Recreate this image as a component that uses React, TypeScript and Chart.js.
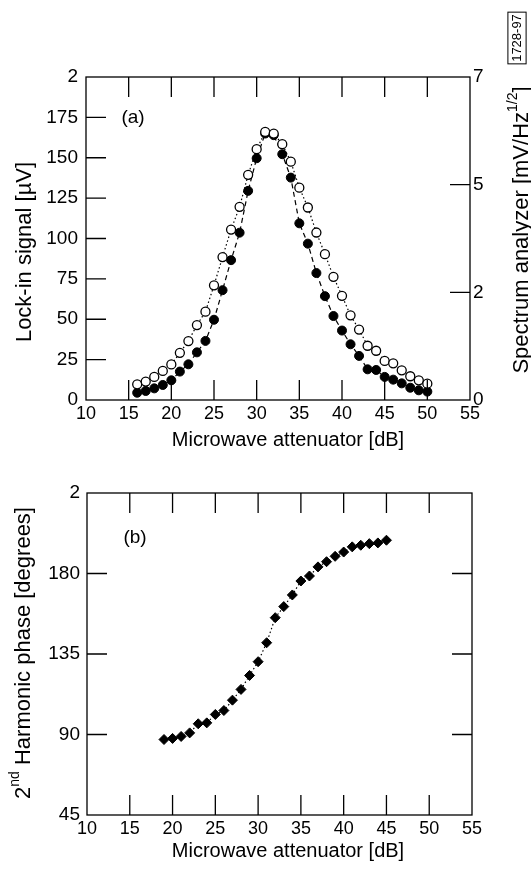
import React, { useEffect, useRef } from "react";
import { Chart, registerables } from "chart.js";

Chart.register(...registerables);

const FONT = '"Liberation Sans", Arial, Helvetica, sans-serif';

// ---- panel (a): signal vs attenuation
const ATTEN_A = [16, 17, 18, 19, 20, 21, 22, 23, 24, 25, 26, 27, 28, 29, 30, 31, 32, 33,
  34, 35, 36, 37, 38, 39, 40, 41, 42, 43, 44, 45, 46, 47, 48, 49, 50];
// open circles, dotted line
const SPECTRUM = [9.7, 11.4, 14.3, 18, 22, 29.2, 36.5, 46.4, 54.7, 71, 88.5, 105.5, 119.6,
  139.4, 155.3, 166, 165, 158.4, 147.6, 131.5, 119.2, 103.7, 90.3, 76.3, 64.5, 52.4, 43.6,
  33.6, 30.5, 24.2, 22.7, 18.4, 14.7, 12.2, 10.1];
// filled circles, dashed line
const LOCKIN = [4.5, 5.6, 7.2, 9.3, 12.2, 17.6, 22.1, 29.5, 36.6, 49.7, 68, 86.6, 103.6,
  129.5, 149.7, 165, 164, 152.2, 137.7, 109.4, 96.8, 78.6, 64.3, 52, 43, 34.5, 27.3, 19,
  18.6, 14.3, 12.6, 10.3, 7.6, 6, 5.2];

// ---- panel (b): phase vs attenuation
const ATTEN_B = [19, 20, 21, 22, 23, 24, 25, 26, 27, 28, 29, 30, 31, 32, 33, 34, 35, 36, 37,
  38, 39, 40, 41, 42, 43, 44, 45];
const PHASE = [87.2, 87.8, 88.9, 90.9, 96, 96.5, 101.2, 103.4, 109.2, 115.2, 123, 130.7,
  141.3, 155.3, 161.5, 168, 175.8, 178.6, 183.7, 186.6, 189.6, 192, 194.9, 195.8, 196.7,
  197.1, 198.6];

// ---- ticks
const X_TICKS = [10, 15, 20, 25, 30, 35, 40, 45, 50, 55];
const X_MARKS = [15, 20, 25, 30, 35, 40, 45, 50];
const YA_TICKS = [0, 25, 50, 75, 100, 125, 150, 175, 200];
const YA_LABELS = ["0", "25", "50", "75", "100", "125", "150", "175", "2"];
const YA_MARKS = [25, 50, 75, 100, 125, 150, 175];
const YA_RIGHT_TICKS = [0, 2.5, 5, 7.5];
const YA_RIGHT_LABELS = ["0", "2", "5", "7"];
const YA_RIGHT_MARKS = [2.5, 5];
const YB_TICKS = [45, 90, 135, 180, 225];
const YB_LABELS = ["45", "90", "135", "180", "2"];
const YB_MARKS = [90, 135, 180];

type Part = { t: string; sup?: boolean };
type Label = { x: number; y: number; rot?: boolean; size: number; parts: Part[]; boxed?: boolean };

function drawLabel(ctx: CanvasRenderingContext2D, l: Label) {
  const supSize = Math.round(l.size * 0.65);
  const fontFor = (p: Part) => `${p.sup ? supSize : l.size}px ${FONT}`;
  let total = 0;
  const widths = l.parts.map((p) => {
    ctx.font = fontFor(p);
    const w = ctx.measureText(p.t).width;
    total += w;
    return w;
  });
  ctx.save();
  ctx.translate(l.x, l.y);
  if (l.rot) ctx.rotate(-Math.PI / 2);
  ctx.fillStyle = "#000";
  ctx.textBaseline = "middle";
  ctx.textAlign = "left";
  let cx = -total / 2;
  l.parts.forEach((p, i) => {
    ctx.font = fontFor(p);
    ctx.fillText(p.t, cx, p.sup ? -l.size * 0.38 : 0);
    cx += widths[i];
  });
  if (l.boxed) {
    ctx.strokeStyle = "#000";
    ctx.lineWidth = 1;
    ctx.strokeRect(-total / 2 - 2, -l.size * 0.7, total + 4, l.size * 1.4);
  }
  ctx.restore();
}

const framePlugin = {
  id: "frame",
  afterDatasetsDraw(chart: any, _args: any, opts: any) {
    const { ctx, chartArea: a, scales } = chart;
    const len = 20;
    ctx.save();
    ctx.strokeStyle = "#000";
    ctx.lineWidth = 1.3;
    ctx.strokeRect(a.left, a.top, a.right - a.left, a.bottom - a.top);
    ctx.beginPath();
    (opts.xMarks || []).forEach((v: number) => {
      const px = scales.x.getPixelForValue(v);
      ctx.moveTo(px, a.bottom);
      ctx.lineTo(px, a.bottom - len);
      ctx.moveTo(px, a.top);
      ctx.lineTo(px, a.top + len);
    });
    (opts.yMarks || []).forEach((v: number) => {
      const py = scales.y.getPixelForValue(v);
      ctx.moveTo(a.left, py);
      ctx.lineTo(a.left + len, py);
      if (opts.mirrorY) {
        ctx.moveTo(a.right, py);
        ctx.lineTo(a.right - len, py);
      }
    });
    (opts.y1Marks || []).forEach((v: number) => {
      const py = scales.y1.getPixelForValue(v);
      ctx.moveTo(a.right, py);
      ctx.lineTo(a.right - len, py);
    });
    ctx.stroke();
    ctx.restore();
    (opts.labels || []).forEach((l: Label) => drawLabel(ctx, l));
  },
};

function xAxis(height: number) {
  return {
    type: "linear" as const,
    min: 10,
    max: 55,
    grid: { display: false, drawTicks: false },
    border: { display: false },
    afterBuildTicks: (s: any) => { s.ticks = X_TICKS.map((v) => ({ value: v })); },
    afterFit: (s: any) => { s.height = height; },
    ticks: { color: "#000", font: { family: FONT, size: 18 }, padding: 3, maxRotation: 0 },
  };
}

function yAxis(min: number, max: number, ticks: number[], labels: string[], width: number, position: "left" | "right", pad: number) {
  return {
    type: "linear" as const,
    position,
    min,
    max,
    grid: { display: false, drawTicks: false },
    border: { display: false },
    afterBuildTicks: (s: any) => { s.ticks = ticks.map((v) => ({ value: v })); },
    afterFit: (s: any) => { s.width = width; },
    ticks: {
      color: "#000",
      font: { family: FONT, size: 19 },
      padding: pad,
      callback: (v: any) => labels[ticks.indexOf(Number(v))] ?? "",
    },
  };
}

function TopPanel() {
  const ref = useRef<HTMLCanvasElement | null>(null);
  useEffect(() => {
    if (!ref.current) return;
    const chart = new Chart(ref.current, {
      type: "line",
      data: {
        datasets: [
          {
            label: "spectrum",
            data: ATTEN_A.map((x, i) => ({ x, y: SPECTRUM[i] })),
            yAxisID: "y",
            borderColor: "#000",
            borderWidth: 1.2,
            borderDash: [1.5, 2.5],
            pointStyle: "circle",
            pointRadius: 4.5,
            pointBackgroundColor: "#fff",
            pointBorderColor: "#000",
            pointBorderWidth: 1.3,
            tension: 0,
          },
          {
            label: "lockin",
            data: ATTEN_A.map((x, i) => ({ x, y: LOCKIN[i] })),
            yAxisID: "y",
            borderColor: "#000",
            borderWidth: 1.2,
            borderDash: [5, 3.5],
            pointStyle: "circle",
            pointRadius: 4.5,
            pointBackgroundColor: "#000",
            pointBorderColor: "#000",
            pointBorderWidth: 1,
            tension: 0,
          },
        ],
      },
      options: {
        animation: false,
        responsive: true,
        maintainAspectRatio: false,
        layout: { padding: { top: 77, left: 0, right: 0, bottom: 0 } },
        plugins: {
          legend: { display: false },
          tooltip: { enabled: false },
          frame: {
            xMarks: X_MARKS,
            yMarks: YA_MARKS,
            y1Marks: YA_RIGHT_MARKS,
            labels: [
              { x: 133, y: 118, size: 19, parts: [{ t: "(a)" }] },
              { x: 25, y: 252, rot: true, size: 22, parts: [{ t: "Lock-in signal [µV]" }] },
              { x: 288, y: 440, size: 20, parts: [{ t: "Microwave attenuator [dB]" }] },
              {
                x: 522, y: 230, rot: true, size: 22,
                parts: [{ t: "Spectrum analyzer [mV/Hz" }, { t: "1/2", sup: true }, { t: "]" }],
              },
              { x: 517, y: 38, rot: true, size: 13, boxed: true, parts: [{ t: "1728-97" }] },
            ],
          },
        } as any,
        scales: {
          x: xAxis(70),
          y: yAxis(0, 200, YA_TICKS, YA_LABELS, 86, "left", 8),
          y1: yAxis(0, 7.5, YA_RIGHT_TICKS, YA_RIGHT_LABELS, 61, "right", 3),
        },
      },
      plugins: [framePlugin],
    });
    return () => chart.destroy();
  }, []);
  return <canvas ref={ref} />;
}

function BottomPanel() {
  const ref = useRef<HTMLCanvasElement | null>(null);
  useEffect(() => {
    if (!ref.current) return;
    const chart = new Chart(ref.current, {
      type: "line",
      data: {
        datasets: [
          {
            label: "phase",
            data: ATTEN_B.map((x, i) => ({ x, y: PHASE[i] })),
            borderColor: "#000",
            borderWidth: 1.2,
            borderDash: [1.5, 2.5],
            pointStyle: "rectRot",
            pointRadius: 5,
            pointBackgroundColor: "#000",
            pointBorderColor: "#000",
            pointBorderWidth: 1,
            tension: 0,
          },
        ],
      },
      options: {
        animation: false,
        responsive: true,
        maintainAspectRatio: false,
        layout: { padding: { top: 23, left: 0, right: 59, bottom: 0 } },
        plugins: {
          legend: { display: false },
          tooltip: { enabled: false },
          frame: {
            xMarks: X_MARKS,
            yMarks: YB_MARKS,
            mirrorY: true,
            labels: [
              { x: 135, y: 68, size: 19, parts: [{ t: "(b)" }] },
              {
                x: 24, y: 183, rot: true, size: 22,
                parts: [{ t: "2" }, { t: "nd", sup: true }, { t: " Harmonic phase [degrees]" }],
              },
              { x: 288, y: 381, size: 20, parts: [{ t: "Microwave attenuator [dB]" }] },
            ],
          },
        } as any,
        scales: {
          x: xAxis(58),
          y: yAxis(45, 225, YB_TICKS, YB_LABELS, 87, "left", 7),
        },
      },
      plugins: [framePlugin],
    });
    return () => chart.destroy();
  }, []);
  return <canvas ref={ref} />;
}

export default function App() {
  return (
    <div style={{ position: "absolute", left: 0, top: 0, width: 531, height: 873, background: "#fff" }}>
      <div style={{ position: "absolute", left: 0, top: 0, width: 531, height: 470 }}>
        <TopPanel />
      </div>
      <div style={{ position: "absolute", left: 0, top: 470, width: 531, height: 403 }}>
        <BottomPanel />
      </div>
    </div>
  );
}
